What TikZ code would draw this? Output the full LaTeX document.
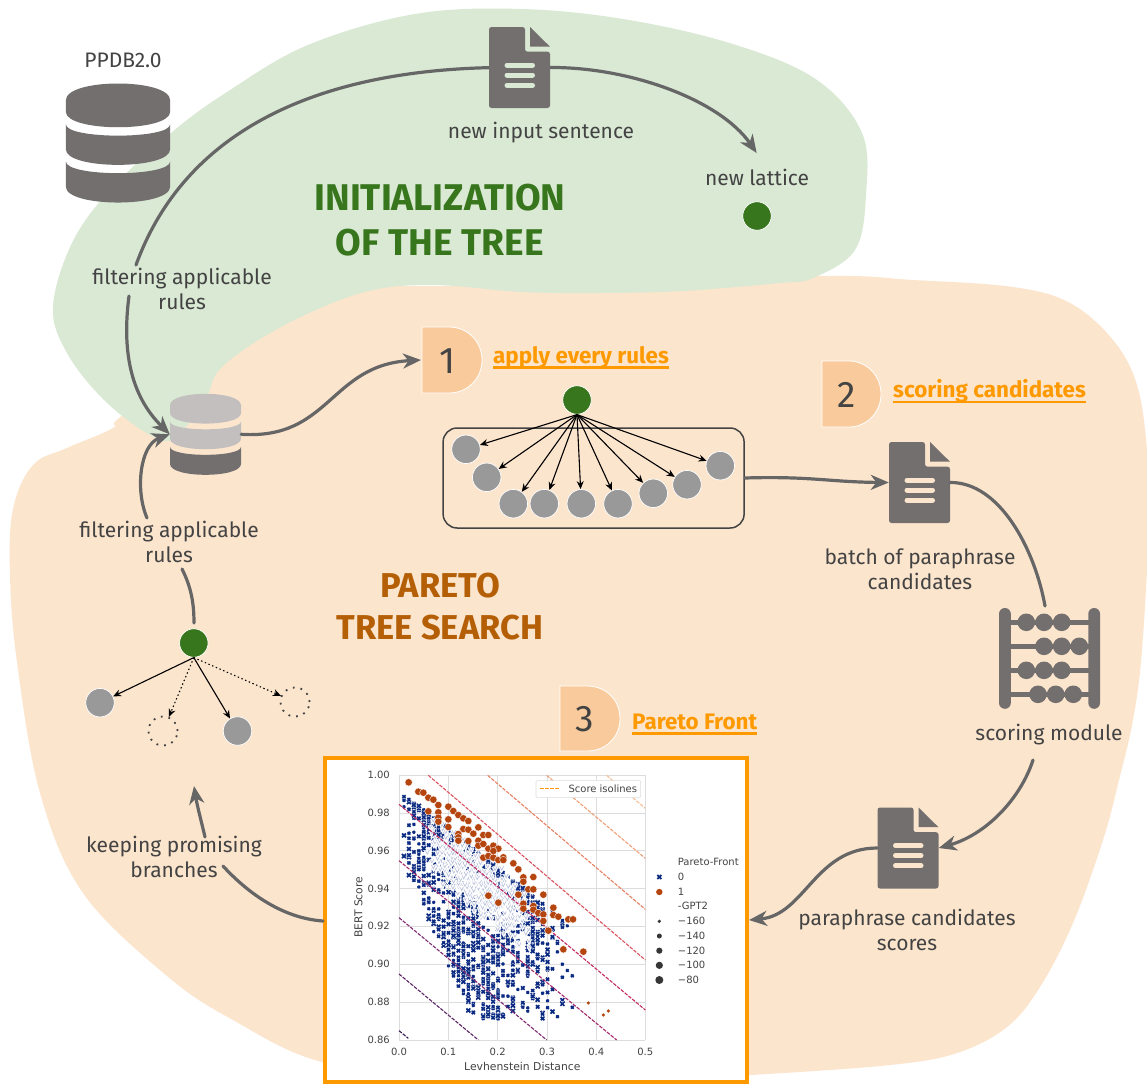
\documentclass[tikz,border=0pt]{standalone}
\usepackage{fontspec}
\setmainfont{Fira Sans}
\newfontfamily\dv{DejaVu Sans}
\usetikzlibrary{arrows.meta,calc}
\definecolor{greenblob}{HTML}{D9E9D4}
\definecolor{orangeblob}{HTML}{FCE5CD}
\definecolor{dkgreen}{HTML}{38761D}
\definecolor{dkorange}{HTML}{B45F06}
\definecolor{brightorange}{HTML}{FF9900}
\definecolor{peach}{HTML}{F9CB9C}
\definecolor{txt}{HTML}{434343}
\definecolor{icon}{HTML}{736F6F}
\definecolor{iconlight}{HTML}{C3BFBF}
\definecolor{nodegray}{HTML}{999999}
\definecolor{conn}{HTML}{666666}
\definecolor{navy}{HTML}{0B2A82}
\definecolor{rust}{HTML}{B5450F}
\definecolor{gridc}{HTML}{DDDDDD}
\newcommand\fsz[1]{\fontsize{#1}{#1}\selectfont}
\tikzset{
  conn/.style={draw=conn,line width=3.2pt,line cap=round},
  connarrow/.style={conn,-{Stealth[length=18pt,width=15pt,inset=5.5pt]}},
  lab/.style={text=txt,align=center,font=\fsz{21},inner sep=0pt},
  headg/.style={align=center,font=\fsz{37.2}\bfseries,inner sep=0pt,text=dkgreen},
  heado/.style={align=center,font=\fsz{34.5}\bfseries,inner sep=0pt,text=dkorange},
  steplabel/.style={text=brightorange,anchor=base west,font=\fsz{22.4}\bfseries,inner sep=0pt},
  stepline/.style={draw=brightorange,line width=2.4pt},
  greendot/.style={circle,fill=dkgreen,draw=white,line width=0.7pt,minimum size=28.5pt,inner sep=0pt},
  graydot/.style={circle,fill=nodegray,draw=white,line width=0.7pt,minimum size=28.5pt,inner sep=0pt},
  ghostdot/.style={circle,draw=txt,line width=1.8pt,dash pattern=on 1.8pt off 5.9pt,minimum size=29pt,inner sep=0pt},
  edge/.style={draw=black,line width=1.1pt,-{Stealth[length=8pt,width=7pt]}},
  dotedge/.style={edge,dash pattern=on 1.4pt off 2.6pt},
  iconbox/.style={inner sep=0pt,minimum width=61pt,minimum height=81pt},
  tick/.style={text=txt,font=\dv\fsz{10},inner sep=0pt},
  axlab/.style={text=txt,font=\dv\fsz{10.8},inner sep=0pt},
  numlab/.style={text=txt,font=\fsz{37},inner sep=0pt},
  pics/docicon/.style={code={
    \fill[icon,rounded corners=2.5pt] (-30.5,-40.5) -- (5.5,-40.5) -- (5.5,-15.8) -- (30.5,-15.8) -- (30.5,40.5) -- (-30.5,40.5) -- cycle;
    \fill[icon] (10.5,-40.5) -- (30.5,-20.8) -- (10.5,-20.8) -- cycle;
    \draw[#1,line width=5pt,line cap=round] (-12.5,-2.3) -- (13,-2.3) (-12.5,7.5) -- (13,7.5) (-12.5,17.7) -- (13,17.7);
  }},
  pics/db/.style n args={3}{code={
    \fill[#1] (-35.5,-29) .. controls (-35.5,-44.3) and (35.5,-44.3) .. (35.5,-29) -- (35.5,-21.3) .. controls (35.5,-7.2) and (-35.5,-7.2) .. (-35.5,-21.3) -- cycle;
    \fill[#2] (-35.5,-12.8) .. controls (-35.5,-2.4) and (35.5,-2.4) .. (35.5,-12.8) -- (35.5,4.3) .. controls (35.5,18.4) and (-35.5,18.4) .. (-35.5,4.3) -- cycle;
    \fill[#3] (-35.5,12.5) .. controls (-35.5,23.2) and (35.5,23.2) .. (35.5,12.5) -- (35.5,29.7) .. controls (35.5,44.1) and (-35.5,44.1) .. (-35.5,29.7) -- cycle;
  }},
  dshape/.style={fill=peach,draw=white,line width=0.8pt},
}
\begin{document}
\begin{tikzpicture}[x=1pt,y=-1pt]
\useasboundingbox (0,0) rectangle (1147,1084);
\clip (0,0) rectangle (1147,1084);
\fill[white] (0,0) rectangle (1147,1084);
% blobs
\fill[orangeblob] plot[smooth cycle,tension=0.6] coordinates {(813,276)(913,280)(1013,287)(1070,303)(1113,340)(1137,385)(1147,450)(1149,520)(1142,650)(1133,720)(1119,780)(1103,840)(1073,923)(1040,987)(1007,1027)(957,1053)(890,1065)(750,1075)(600,1082)(450,1076)(322,1062)(233,1020)(167,976)(83,893)(40,793)(17,662)(10,575)(13,509)(33,465)(67,448)(113,428)(130,410)(300,300)(500,285)};
\fill[greenblob] plot[smooth cycle,tension=0.6] coordinates {(522,9)(629,20)(736,45)(817,80)(862,133)(866,195)(855,250)(813,278)(780,283)(683,291)(600,293)(522,292)(431,285)(361,293)(281,327)(222,367)(205,400)(175,438)(150,435)(104,400)(67,353)(53,307)(72,243)(110,190)(171,133)(227,92)(308,45)(415,14)};
% free connector ends
\coordinate (c1mid) at (136,265);
\coordinate (c1low) at (129,296);
\coordinate (c2top) at (147,518);
\coordinate (c2low) at (182,569);
\coordinate (c3a) at (223,866);
\coordinate (c3b) at (205,837);
\coordinate (c3tip) at (194,786);
\coordinate (latin) at (756.7,153);
\coordinate (abtop) at (1045,606);
\coordinate (scout) at (1033,760);
\coordinate (d1) at (421,360);
\coordinate (r2top) at (194,623);
% icons
\node[iconbox] (doc1) at (519.5,67.5) {};
\node[iconbox] (doc2) at (919.5,482.5) {};
\node[iconbox] (doc3) at (908,848) {};
\draw[conn] (doc1.center) .. controls (320,65) and (185,130) .. (c1mid);
\draw[connarrow] (doc1.east) .. controls (630,67) and (720,100) .. (latin);
\pic at (doc1) {docicon=greenblob};
\pic at (doc2) {docicon=orangeblob};
\pic at (doc3) {docicon=orangeblob};
\node[inner sep=0pt,minimum width=104pt,minimum height=120pt] (bigdb) at (118,143) {};
\pic[scale=1.47] at (bigdb) {db={icon}{icon}{icon}};
\node[inner sep=0pt,minimum width=71pt,minimum height=81pt] (smalldb) at (205.5,434.3) {};
\pic at (smalldb) {db={iconlight}{iconlight}{icon}};
% abacus
\node[inner sep=0pt,minimum width=101pt,minimum height=101pt] (abacus) at (1049.5,658.3) {};
\fill[icon,rounded corners=5.8pt] (999,608) rectangle (1010.8,708.8);
\fill[icon,rounded corners=5.8pt] (1088.3,608) rectangle (1100,708.8);
\foreach \yy/\aa/\bb/\cc in {622.3/1026.3/1044/1061.7,646.3/1044/1061.7/1079.3,670.3/1026.3/1044/1061.7,694.3/1038/1055.7/1073.3}{
  \fill[icon] (1005,\yy-2.4) rectangle (1095,\yy+2.4);
  \fill[icon] (\aa,\yy) circle[radius=8.8pt] (\bb,\yy) circle[radius=8.8pt] (\cc,\yy) circle[radius=8.8pt];
}
% labels
\node[lab] (ppdb) at (123,60) {PPDB2.0};
\node[lab] (newsent) at (541,133) {new input sentence};
\node[lab] (newlat) at (757,177) {new lattice};
\node[greendot] (lat) at (757,216) {};
\node[headg] (initA) at (440,198) {INITIALIZATION};
\node[headg] (initB) at (440,243) {OF THE TREE};
\node[lab] (filt1) at (182,289) {filtering applicable\\[4pt]rules};
\node[lab] (filt2) at (169,542) {filtering applicable\\[4pt]rules};
\node[heado] (parA) at (440,585.5) {PARETO};
\node[heado] (parB) at (440,628) {TREE SEARCH};
\node[lab] (batch) at (920,569) {batch of paraphrase\\[4pt]candidates};
\node[lab] (scoremod) at (1049,734.5) {scoring module};
\node[lab] (scores) at (907,929.5) {paraphrase candidates\\[4pt]scores};
\node[lab] (keep) at (174,856.5) {keeping promising\\[4pt]branches};
% D shapes
\path[dshape] (422,327) -- (449,327) .. controls (468,327) and (482,342) .. (482,360) .. controls (482,378) and (468,393) .. (449,393) -- (422,393) -- cycle;
\node[numlab] (n1) at (448,361) {1};
\path[dshape] (822,361) -- (849,361) .. controls (867,361) and (881,376) .. (881,394) .. controls (881,412) and (867,427) .. (849,427) -- (822,427) -- cycle;
\node[numlab] (n2) at (847,395) {2};
\path[dshape] (560,686) -- (587,686) .. controls (606,686) and (620,700) .. (620,718.5) .. controls (620,737) and (606,751) .. (587,751) -- (560,751) -- cycle;
\node[numlab] (n3) at (585,719) {3};
\node[steplabel] (s1) at (493,363) {apply every rules};
\node[steplabel] (s2) at (893,397.5) {scoring candidates};
\node[steplabel] (s3) at (632,729) {Pareto Front};
\foreach \s in {s1,s2,s3} \draw[stepline] ($(\s.base west)+(0,4.5)$) -- ($(\s.base east)+(0,4.5)$);
% tree 1
\node[draw=txt,line width=1.5pt,rounded corners=14pt,minimum width=301pt,minimum height=100pt,inner sep=0pt] (box) at (593.6,478) {};
\node[greendot] (r1) at (577,400) {};
\foreach \n/\px/\py in {a/466/449.3,b/486.7/477.3,c/513.3/503.7,d/544.3/503.7,e/581.3/503.7,f/618/503.7,g/653.3/493.3,h/687/484.7,i/720.3/465.7}{
  \node[graydot] (t\n) at (\px,\py) {};
  \draw[edge] (r1.south) -- (t\n);
}
% tree 2
\node[greendot] (r2) at (193.8,643) {};
\node[graydot] (u1) at (100,702.7) {};
\node[graydot] (u2) at (237.5,731) {};
\node[ghostdot] (u3) at (163,731) {};
\node[ghostdot] (u4) at (295,702) {};
\draw[edge] (r2.south) -- (u1);
\draw[edge] (r2.south) -- (u2);
\draw[dotedge] (r2.south) -- (u3);
\draw[dotedge] (r2.south) -- (u4);
% chart frame
\node[draw=brightorange,fill=white,line width=4pt,minimum width=422pt,minimum height=324pt,inner sep=0pt] (frame) at (536,920) {};
\begin{scope}[shift={(320,750)},x=0.33333pt,y=-0.33333pt]
  \foreach \gx in {237,385,533,681,829,976} \draw[gridc,line width=1pt] (\gx,76) -- (\gx,870);
  \foreach \gy in {76,189,302,416,529,643,756,870} \draw[gridc,line width=1pt] (237,\gy) -- (976,\gy);
  \foreach \gx/\t in {237/0.0,385/0.1,533/0.2,681/0.3,829/0.4,976/0.5} \node[tick] at (\gx,907) {\t};
  \foreach \gy/\t in {76/1.00,189/0.98,302/0.96,416/0.94,529/0.92,643/0.90,756/0.88,870/0.86} \node[tick,anchor=east] at (210,\gy) {\t};
  \node[axlab] at (607,948) {Levhenstein Distance};
  \node[axlab,rotate=90] at (115,472) {BERT Score};
  % navy markers
  \pgfmathsetseed{11}
  \foreach \i in {1,...,1050}{
    \pgfmathsetmacro\cx{250+510*pow((rnd+rnd)/2+0.001,1.25)}
    \pgfmathsetmacro\xx{252+14.85*round((\cx-252)/14.85)}
    \pgfmathsetmacro\tp{125+0.79*(\xx-250)+6}
    \pgfmathsetmacro\bt{min(810,340+(\xx-250)*2.3)}
    \pgfmathsetmacro\yy{\tp+(\bt-\tp)*pow(rnd+0.001,1.5)}
    \pgfmathsetmacro\ss{3.2+3*rnd}
    \draw[white,line width=2.6pt,shift={(\xx,\yy)}] (-\ss,-\ss) -- (\ss,\ss) (-\ss,\ss) -- (\ss,-\ss);
    \draw[navy,line width=1.7pt,shift={(\xx,\yy)}] (-\ss,-\ss) -- (\ss,\ss) (-\ss,\ss) -- (\ss,-\ss);
  }
  % dense pale centre
  \foreach \i in {1,...,480}{
    \pgfmathsetmacro\xx{310+340*(rnd+rnd)/2}
    \pgfmathsetmacro\cy{185+0.85*(\xx-295)+(rnd+rnd-1)*105+60}
    \pgfmathsetmacro\ss{4+2.5*rnd}
    \draw[white,line width=3pt,shift={(\xx,\cy)}] (-\ss,-\ss) -- (0,\ss) -- (\ss,-\ss);
    \draw[navy!28!white,line width=0.7pt,shift={(\xx,\cy)}] (-\ss,-\ss) -- (0,\ss) -- (\ss,-\ss);
  }
  % isolines
  \foreach \ax/\ay/\bx/\by/\cc in {860/76/976/175/F5C09A,680/76/976/325/F0A078,503/76/976/478/E97F62,325/76/976/630/DC5360,237/163/976/780/C42D63,237/332/890/870/A42A6C,237/503/680/870/7E2A70,237/672/475/870/5C2566,237/842/265/865/3B1A4C}{
    \definecolor{isoc}{HTML}{\cc}
    \draw[isoc,line width=1.1pt,dash pattern=on 3.6pt off 1.3pt] (\ax,\ay) -- (\bx,\by);
  }
  % rust dots
  \foreach \px/\py in {266/97,295/125,310/128,325/143,340/149,355/165,325/184,355/187,355/203,355/215,385/170,400/183,385/208,385/231,415/195,430/205,445/213,430/237,445/239,475/232,460/251,415/252,415/262,415/272,445/273,475/272,490/255,505/255,475/287,490/282,505/296,520/287,535/296,520/303,490/323,505/318,520/323,535/330,550/322,550/330,580/340,595/358,610/382,610/395,640/381,625/418,640/418,670/434,505/437,595/434,535/458,610/461,610/476,640/468,640/479,655/489,670/493,700/473,700/495,715/500,670/513,745/508,759/508,685/542,730/598,790/605}{
    \fill[rust,draw=white,line width=0.35pt] (\px,\py) circle[radius=3.7pt];
  }
  \foreach \px/\py in {805/759,850/795,865/783} \fill[rust] (\px,\py) circle[radius=1.8pt];
  % legend
  \draw[gridc,fill=white,line width=0.6pt,rounded corners=1pt] (648,92) rectangle (962,142);
  \draw[brightorange,line width=1pt,dash pattern=on 3.6pt off 1.5pt] (660,115) -- (720,115);
  \node[tick,anchor=west] at (745,115) {Score isolines};
  \node[tick,anchor=west] at (1073,337) {Pareto-Front};
  \draw[navy,line width=1.7pt] (1012,375) -- (1024,387) (1012,387) -- (1024,375);
  \node[tick,anchor=west] at (1073,381) {0};
  \fill[rust] (1018,426) circle[radius=3.2pt];
  \node[tick,anchor=west] at (1073,425) {1};
  \node[tick,anchor=west] at (1073,469) {-GPT2};
  \foreach \ly/\lr/\t in {514/1.8/−160,558/2.5/−140,602/3.1/−120,646/3.6/−100,690/4/−80}{
    \fill[txt!80!black] (1018,\ly) circle[radius=\lr pt];
    \node[tick,anchor=west] at (1073,\ly) {\t};
  }
\end{scope}
% connectors
\draw[connarrow] (c1low) .. controls (122,350) and (130,395) .. (smalldb.west);
\draw[conn] (r2top) .. controls (194,600) and (190,585) .. (c2low);
\draw[connarrow] (c2top) .. controls (135,490) and (140,445) .. (smalldb.west);
\draw[connarrow] (smalldb.east) .. controls (330,440) and (330,365) .. (d1);
\draw[connarrow] (box.east) .. controls (810,476) and (830,482) .. (doc2.west);
\draw[conn] (doc2.east) .. controls (1000,482) and (1035,550) .. (abtop);
\draw[connarrow] (scout) .. controls (1020,800) and (985,835) .. (doc3.east);
\draw[connarrow] (doc3.west) .. controls (815,848) and (805,915) .. (frame.east |- 0,920);
\draw[conn] (frame.west |- 0,921) .. controls (280,918) and (245,890) .. (c3a);
\draw[connarrow] (c3b) .. controls (201,820) and (197,805) .. (c3tip);
\end{tikzpicture}
\end{document}
